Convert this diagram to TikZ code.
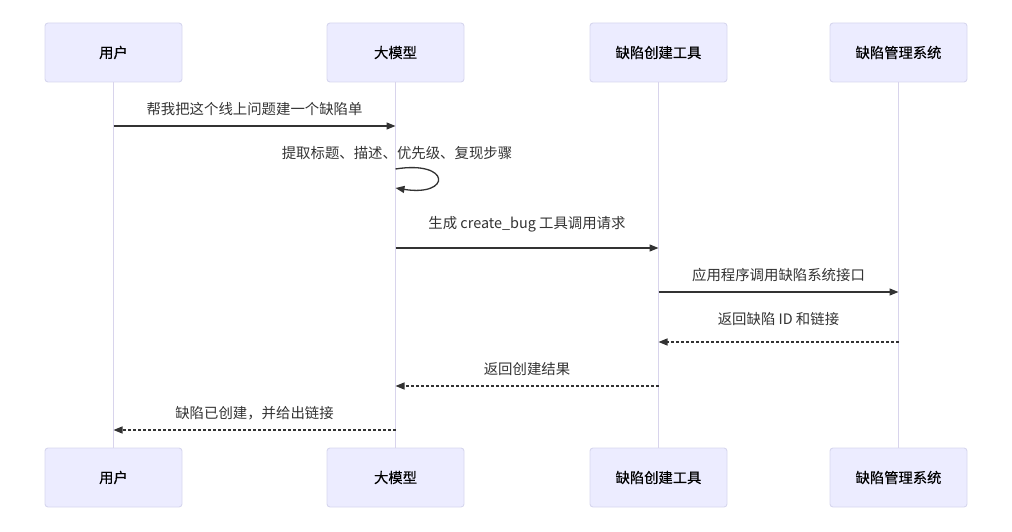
\documentclass[tikz,border=0pt]{standalone}
\usepackage{fontspec}
\setmainfont{Noto Sans CJK SC}
\newfontfamily\actfont[FakeBold=0.35]{Noto Sans CJK SC}
\usetikzlibrary{arrows.meta}
\definecolor{actfill}{HTML}{ECECFF}
\definecolor{actdraw}{HTML}{D6D6EE}
\definecolor{lifec}{HTML}{D8D4EC}
\definecolor{msgc}{HTML}{333333}
\begin{document}
\begin{tikzpicture}[x=1pt,y=-1pt,
  actor/.style={draw=actdraw,fill=actfill,rounded corners=3pt,line width=0.9pt,minimum width=137pt,minimum height=59pt,inner sep=0pt,font=\actfont\fontsize{14.3}{16}\selectfont,text=black},
  life/.style={draw=lifec,line width=1.2pt},
  msg/.style={draw=msgc,line width=1.3pt,-{Triangle[length=9pt,width=7pt]}},
  reply/.style={msg,dash pattern=on 3pt off 2pt},
  lbl/.style={font=\fontsize{14.4}{16}\selectfont,text=msgc,inner sep=0pt}]
\useasboundingbox (0,0) rectangle (1012,532);
% actors top
\node[actor] (a1) at (113.5,52.5) {用户};
\node[actor] (a2) at (395.5,52.5) {大模型};
\node[actor] (a3) at (658.5,52.5) {缺陷创建工具};
\node[actor] (a4) at (898.5,52.5) {缺陷管理系统};
% actors bottom
\node[actor] (b1) at (113.5,477.5) {用户};
\node[actor] (b2) at (395.5,477.5) {大模型};
\node[actor] (b3) at (658.5,477.5) {缺陷创建工具};
\node[actor] (b4) at (898.5,477.5) {缺陷管理系统};
% lifelines
\draw[life] (a1.south) -- (b1.north);
\draw[life] (a2.south) -- (b2.north);
\draw[life] (a3.south) -- (b3.north);
\draw[life] (a4.south) -- (b4.north);
% message coordinates
\coordinate (m1s) at (113.5,126); \coordinate (m1e) at (395.5,126);
\coordinate (m2s) at (395.5,169); \coordinate (m2e) at (395.5,188);
\coordinate (m3s) at (395.5,248); \coordinate (m3e) at (658.5,248);
\coordinate (m4s) at (658.5,292); \coordinate (m4e) at (898.5,292);
\coordinate (m5s) at (898.5,342); \coordinate (m5e) at (658.5,342);
\coordinate (m6s) at (658.5,386); \coordinate (m6e) at (395.5,386);
\coordinate (m7s) at (395.5,430); \coordinate (m7e) at (113.5,430);
% messages
\draw[msg] (m1s) -- (m1e);
\node[lbl] (l1) at (254.5,109) {帮我把这个线上问题建一个缺陷单};
\draw[msg] (m2s) .. controls (451.5,160) and (451.5,197) .. (m2e);
\node[lbl] (l2) at (397,153) {提取标题、描述、优先级、复现步骤};
\draw[msg] (m3s) -- (m3e);
\node[lbl] (l3) at (527,224) {生成 create\_bug 工具调用请求};
\draw[msg] (m4s) -- (m4e);
\node[lbl] (l4) at (778.5,275) {应用程序调用缺陷系统接口};
\draw[reply] (m5s) -- (m5e);
\node[lbl] (l5) at (778.5,319) {返回缺陷 ID 和链接};
\draw[reply] (m6s) -- (m6e);
\node[lbl] (l6) at (527,369) {返回创建结果};
\draw[reply] (m7s) -- (m7e);
\node[lbl] (l7) at (254.5,413) {缺陷已创建，并给出链接};
\end{tikzpicture}
\end{document}
